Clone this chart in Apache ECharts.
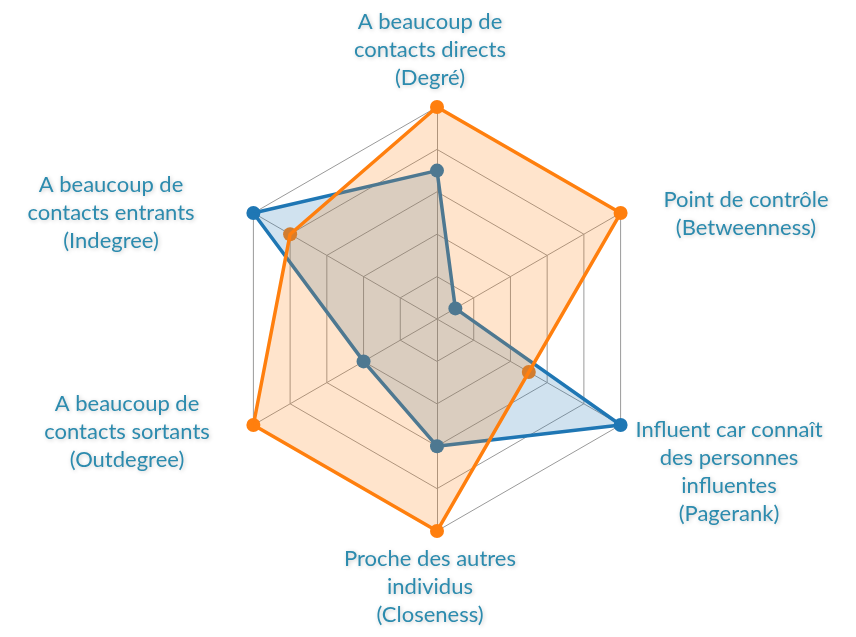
<!DOCTYPE html>
<html>
<head>
<meta charset="utf-8">
<script src="https://cdn.jsdelivr.net/npm/echarts@6/dist/echarts.min.js"></script>
<style>html,body{margin:0;padding:0;background:#fff}#c{width:856px;height:637px}</style>
</head>
<body>
<div id="c"></div>
<script>
// Indicators in ECharts order (top, then counter-clockwise)
const indicatorNames = [
  "A beaucoup de\ncontacts directs\n(Degré)",
  "A beaucoup de\ncontacts entrants\n(Indegree)",
  "A beaucoup de\ncontacts sortants\n(Outdegree)",
  "Proche des autres\nindividus\n(Closeness)",
  "Influent car connaît\ndes personnes\ninfluentes\n(Pagerank)",
  "Point de contrôle\n(Betweenness)"
];
const maxValue = 1;
const blueValues = [0.70, 1.00, 0.40, 0.60, 1.00, 0.10];
const orangeValues = [1.00, 0.80, 1.00, 1.00, 0.50, 1.00];

// label placement (text only)
const labelPos = [[430, 50], [111, 213], [127, 432], [430, 587], [729, 472], [746, 214]];

const BLUE = '#1F77B4', ORANGE = '#FF7F0E';
const chart = echarts.init(document.getElementById('c'), null, {renderer: 'canvas'});
const textColor = '#2C8BAE';
chart.setOption({
  animation: false,
  radar: {
    center: [437, 319],
    radius: 212,
    startAngle: 90,
    shape: 'polygon',
    splitNumber: 5,
    indicator: indicatorNames.map(n => ({name: n, max: maxValue, min: 0})),
    axisName: {show: false},
    axisLine: {lineStyle: {color: '#9a9a9a', width: 1}},
    splitLine: {lineStyle: {color: '#9a9a9a', width: 1}},
    splitArea: {show: false}
  },
  graphic: indicatorNames.map((n, i) => ({
    type: 'text',
    x: labelPos[i][0],
    y: labelPos[i][1],
    z: 10,
    style: {
      text: n,
      textAlign: 'center',
      textVerticalAlign: 'middle',
      font: '22px Lato',
      lineHeight: 28,
      fill: textColor,
      textShadowColor: 'rgba(0,0,0,0.22)',
      textShadowBlur: 4,
      textShadowOffsetX: 1,
      textShadowOffsetY: 1
    }
  })),
  series: [
    {
      // markers (drawn beneath the filled areas)
      type: 'radar',
      z: 1,
      symbol: 'circle',
      symbolSize: 14,
      lineStyle: {opacity: 0},
      data: [
        {value: blueValues, name: 'Bleu', itemStyle: {color: BLUE}},
        {value: orangeValues, name: 'Orange', itemStyle: {color: ORANGE}}
      ]
    },
    {
      type: 'radar',
      z: 2,
      symbol: 'none',
      data: [{
        value: blueValues,
        name: 'Bleu',
        lineStyle: {color: BLUE, width: 3.5},
        areaStyle: {color: 'rgba(31,119,180,0.3)'}
      }]
    },
    {
      type: 'radar',
      z: 3,
      symbol: 'none',
      data: [{
        value: orangeValues,
        name: 'Orange',
        lineStyle: {color: ORANGE, width: 3.5},
        areaStyle: {color: 'rgba(255,127,14,0.3)'}
      }]
    }
  ]
});
</script>
</body>
</html>
